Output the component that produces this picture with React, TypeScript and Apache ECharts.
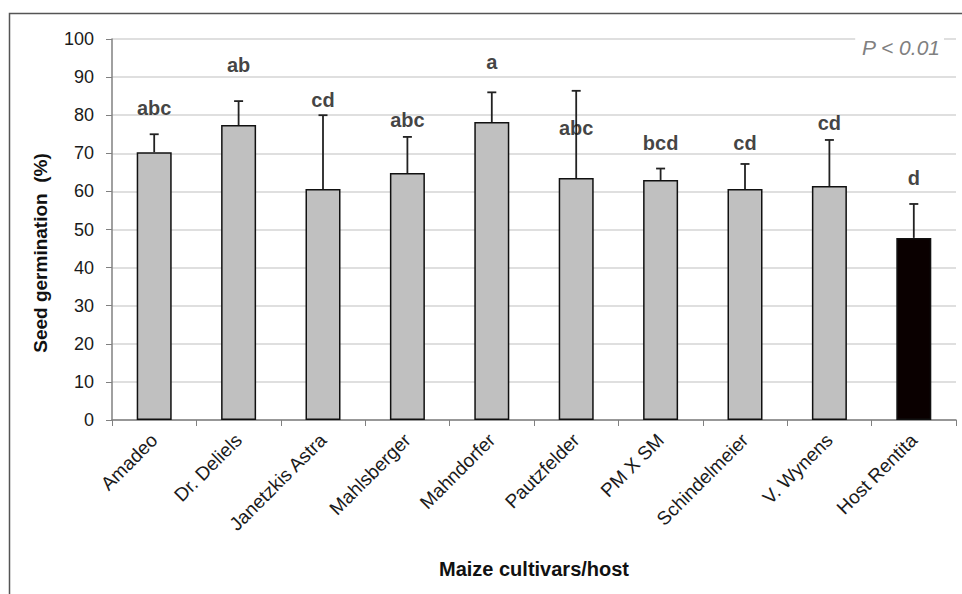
import React, { useEffect, useRef } from "react";
import * as echarts from "echarts";

const categories = [
  "Amadeo",
  "Dr. Deliels",
  "Janetzkis Astra",
  "Mahlsberger",
  "Mahndorfer",
  "Pautzfelder",
  "PM X SM",
  "Schindelmeier",
  "V. Wynens",
  "Host Rentita",
];
const germination = [70.3, 77.4, 60.6, 64.8, 78.2, 63.5, 63.0, 60.6, 61.4, 47.8];
const errorTop = [75.0, 83.7, 80.0, 74.3, 86.0, 86.4, 66.0, 67.2, 73.5, 56.7];
const letters = ["abc", "ab", "cd", "abc", "a", "abc", "bcd", "cd", "cd", "d"];
const letterY = [81.9, 93.2, 84.0, 78.7, 94.0, 76.6, 72.7, 72.7, 78.0, 63.5];
const yTicks = [0, 10, 20, 30, 40, 50, 60, 70, 80, 90, 100];

const FONT = "'Liberation Sans', Arial, sans-serif";

export default function App() {
  const ref = useRef<HTMLDivElement>(null);
  useEffect(() => {
    if (!ref.current) return;
    const chart = echarts.init(ref.current, null, { renderer: "svg" });
    const option: any = {
      animation: false,
      backgroundColor: "#ffffff",
      textStyle: { fontFamily: FONT },
      graphic: [
        {
          type: "rect",
          shape: { x: 9.5, y: 13.5, width: 980, height: 620 },
          style: { fill: "none", stroke: "#555555", lineWidth: 1.5 },
          silent: true,
          z: 100,
        },
        {
          type: "text",
          x: 40,
          y: 253,
          rotation: Math.PI / 2,
          style: {
            text: "Seed germination  (%)",
            font: `bold 19px ${FONT}`,
            fill: "#111",
            align: "center",
            verticalAlign: "middle",
          },
          z: 50,
        },
        {
          type: "text",
          x: 944,
          y: 47,
          style: {
            text: "P < 0.01",
            font: `italic 21px ${FONT}`,
            fill: "#808080",
            align: "right",
            verticalAlign: "middle",
            backgroundColor: "#ffffff",
            padding: [4, 4, 4, 6],
          },
          z: 50,
        },
      ],
      grid: { left: 112, right: 6, top: 39, bottom: 174 },
      xAxis: {
        type: "category",
        data: categories,
        boundaryGap: true,
        name: "Maize cultivars/host",
        nameLocation: "middle",
        nameGap: 139,
        nameTextStyle: { fontFamily: FONT, fontWeight: "bold", fontSize: 20, color: "#111" },
        axisLine: { lineStyle: { color: "#808080", width: 1.5 } },
        axisTick: { show: true, alignWithLabel: false, length: 6, lineStyle: { color: "#808080" } },
        axisLabel: {
          rotate: 45,
          fontFamily: FONT,
          fontSize: 19,
          color: "#1a1a1a",
          margin: 17,
          interval: 0,
        },
      },
      yAxis: {
        type: "value",
        min: 0,
        max: 100,
        interval: 10,
        axisLine: { show: true, lineStyle: { color: "#808080", width: 1.5 } },
        axisTick: { show: true, length: 6, lineStyle: { color: "#808080" } },
        axisLabel: {
          fontFamily: FONT,
          fontSize: 18,
          color: "#1a1a1a",
          margin: 18,
          formatter: (v: number) => (yTicks.includes(v) ? String(v) : ""),
        },
        splitLine: { show: true, lineStyle: { color: "#d4d4d4", width: 1.5 } },
      },
      series: [
        {
          type: "bar",
          data: germination.map((v, i) => ({
            value: v,
            itemStyle: { color: i === categories.length - 1 ? "#0a0000" : "#c0c0c0" },
          })),
          barWidth: 35,
          itemStyle: { borderColor: "#111", borderWidth: 1.5 },
          z: 2,
        },
        {
          type: "custom",
          data: errorTop.map((e, i) => [i, germination[i], e]),
          z: 3,
          renderItem: (params: any, api: any) => {
            const idx = api.value(0);
            const base = api.coord([idx, api.value(1)]);
            const top = api.coord([idx, api.value(2)]);
            const cap = 4.5;
            const style = { stroke: "#222", lineWidth: 1.8 };
            return {
              type: "group",
              children: [
                { type: "line", shape: { x1: base[0], y1: base[1], x2: top[0], y2: top[1] }, style },
                { type: "line", shape: { x1: top[0] - cap, y1: top[1], x2: top[0] + cap, y2: top[1] }, style },
              ],
            };
          },
        },
        {
          type: "scatter",
          data: letterY.map((y, i) => [i, y, letters[i]]),
          symbolSize: 0,
          z: 4,
          label: {
            show: true,
            position: "inside",
            formatter: (p: any) => p.value[2],
            fontFamily: FONT,
            fontWeight: "bold",
            fontSize: 20,
            color: "#111",
          },
        },
      ],
    };
    chart.setOption(option);
    return () => chart.dispose();
  }, []);
  return (
    <div
      ref={ref}
      style={{ position: "fixed", left: 0, top: 0, width: 962, height: 594, background: "#fff" }}
    />
  );
}
